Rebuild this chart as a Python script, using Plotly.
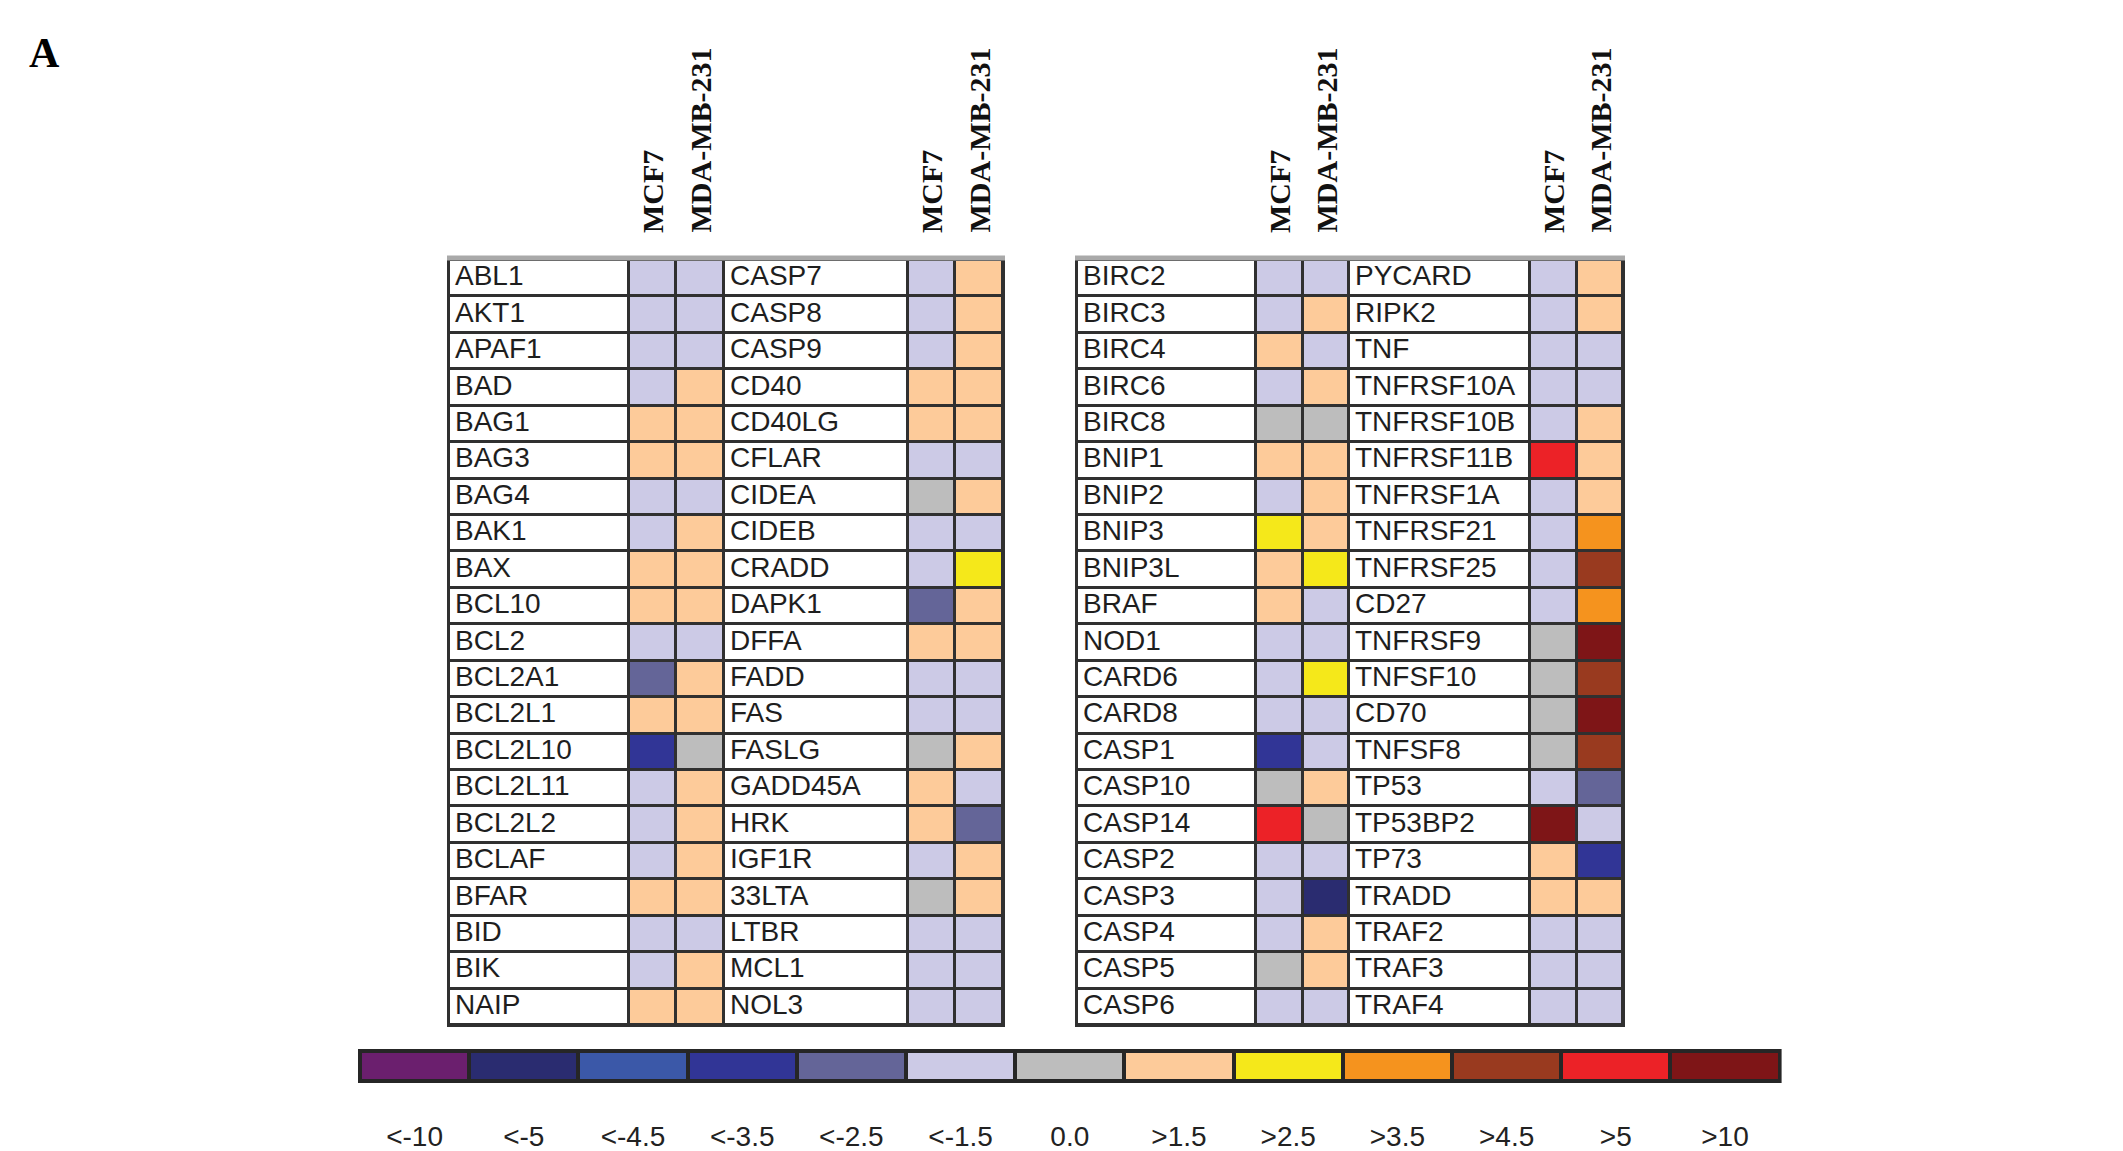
import plotly.graph_objects as go

# legend categories (fold change bins) and their colours
legend_labels = ["<-10", "<-5", "<-4.5", "<-3.5", "<-2.5", "<-1.5", "0.0",
                 ">1.5", ">2.5", ">3.5", ">4.5", ">5", ">10"]
legend_colors = ["#6b1f6e", "#2a2c70", "#3b58a8", "#313596", "#646598", "#cccae6", "#bdbdbd",
                 "#fdcb9a", "#f5e81a", "#f5931e", "#993a1f", "#ec2227", "#7e1517"]

L, G, P = "<-1.5", "0.0", ">1.5"

# left table
genes_a = ["ABL1", "AKT1", "APAF1", "BAD", "BAG1", "BAG3", "BAG4", "BAK1", "BAX", "BCL10", "BCL2",
           "BCL2A1", "BCL2L1", "BCL2L10", "BCL2L11", "BCL2L2", "BCLAF", "BFAR", "BID", "BIK", "NAIP"]
mcf7_a = [L, L, L, L, P, P, L, L, P, P, L, "<-2.5", P, "<-3.5", L, L, L, P, L, L, P]
mda_a = [L, L, L, P, P, P, L, P, P, P, L, P, P, G, P, P, P, P, L, P, P]

genes_b = ["CASP7", "CASP8", "CASP9", "CD40", "CD40LG", "CFLAR", "CIDEA", "CIDEB", "CRADD", "DAPK1",
           "DFFA", "FADD", "FAS", "FASLG", "GADD45A", "HRK", "IGF1R", "33LTA", "LTBR", "MCL1", "NOL3"]
mcf7_b = [L, L, L, P, P, L, G, L, L, "<-2.5", P, L, L, G, P, P, L, G, L, L, L]
mda_b = [P, P, P, P, P, L, P, L, ">2.5", P, P, L, L, P, L, "<-2.5", P, P, L, L, L]

# right table
genes_c = ["BIRC2", "BIRC3", "BIRC4", "BIRC6", "BIRC8", "BNIP1", "BNIP2", "BNIP3", "BNIP3L", "BRAF",
           "NOD1", "CARD6", "CARD8", "CASP1", "CASP10", "CASP14", "CASP2", "CASP3", "CASP4", "CASP5", "CASP6"]
mcf7_c = [L, L, P, L, G, P, L, ">2.5", P, P, L, L, L, "<-3.5", G, ">5", L, L, L, G, L]
mda_c = [L, P, L, P, G, P, P, P, ">2.5", L, L, ">2.5", L, L, P, G, L, "<-5", P, P, L]

genes_d = ["PYCARD", "RIPK2", "TNF", "TNFRSF10A", "TNFRSF10B", "TNFRSF11B", "TNFRSF1A", "TNFRSF21",
           "TNFRSF25", "CD27", "TNFRSF9", "TNFSF10", "CD70", "TNFSF8", "TP53", "TP53BP2", "TP73",
           "TRADD", "TRAF2", "TRAF3", "TRAF4"]
mcf7_d = [L, L, L, L, L, ">5", L, L, L, L, G, G, G, G, L, ">10", P, P, L, L, L]
mda_d = [P, P, L, L, P, P, P, ">3.5", ">4.5", ">3.5", ">10", ">4.5", ">10", ">4.5", "<-2.5", L,
         "<-3.5", P, L, L, L]

cell_lines = ["MCF7", "MDA-MB-231"]

# ---- layout constants (pixel coordinates of the canvas) ----
W, H = 2123, 1151
TOP, BOTTOM = 252, 1017
left_edges = [441, 621, 668, 716, 900, 947, 995]
right_edges = [1069, 1248, 1295, 1341, 1522, 1569, 1615]
BAR_X0, BAR_W, BAR_Y0, BAR_Y1 = 352, 109.2, 1043, 1073
GRID = "#303030"

n_cat = len(legend_labels) + 1  # 0 = blank (white name cell)
colorscale = []
for i, c in enumerate(["#ffffff"] + legend_colors):
    colorscale += [[i / n_cat, c], [(i + 1) / n_cat, c]]


def code(lbl):
    return legend_labels.index(lbl) + 1


fig = go.Figure()

nrows = len(genes_a)
row_h = (BOTTOM - TOP) / nrows
y_edges = [TOP + i * row_h for i in range(nrows + 1)]
y_mid = [TOP + (i + 0.5) * row_h for i in range(nrows)]

tables = [
    (left_edges, genes_a, mcf7_a, mda_a, genes_b, mcf7_b, mda_b),
    (right_edges, genes_c, mcf7_c, mda_c, genes_d, mcf7_d, mda_d),
]

for edges, g1, m1, d1, g2, m2, d2 in tables:
    z = [[0, code(m1[r]), code(d1[r]), 0, code(m2[r]), code(d2[r])] for r in range(nrows)]
    fig.add_shape(type="rect", x0=edges[0] - 2, x1=edges[-1] + 2, y0=TOP - 2, y1=BOTTOM + 2,
                  fillcolor=GRID, line_width=0, layer="below")
    fig.add_trace(go.Heatmap(z=z, x=edges, y=y_edges, colorscale=colorscale, zmin=-0.5,
                             zmax=n_cat - 0.5, xgap=3, ygap=3, showscale=False, hoverinfo="skip"))
    # gray top rule
    fig.add_shape(type="line", x0=edges[0] - 2, x1=edges[-1] + 2, y0=TOP - 2, y1=TOP - 2,
                  line=dict(color="#a9a9a9", width=5))
    # gene names
    for gx, names in ((edges[0], g1), (edges[3], g2)):
        fig.add_trace(go.Scatter(x=[gx + 6] * nrows, y=y_mid, text=names, mode="text",
                                 textposition="middle right", hoverinfo="skip", showlegend=False,
                                 textfont=dict(family="Liberation Sans, Arial", size=28, color="#1e1e1e")))
    # rotated column headers
    for c0 in (1, 4):
        for k, name in enumerate(cell_lines):
            xc = (edges[c0 + k] + edges[c0 + k + 1]) / 2
            fig.add_annotation(x=xc, y=227, text=name, textangle=-90, showarrow=False,
                               xanchor="center", yanchor="bottom",
                               font=dict(family="Liberation Serif, Times New Roman", size=30,
                                         color="#111111", weight="bold"))

# colour key
bar_edges = [BAR_X0 + i * BAR_W for i in range(len(legend_labels) + 1)]
bar_mid = [BAR_X0 + (i + 0.5) * BAR_W for i in range(len(legend_labels))]
fig.add_shape(type="rect", x0=bar_edges[0] - 2, x1=bar_edges[-1] + 2, y0=BAR_Y0 - 2, y1=BAR_Y1 + 2,
              fillcolor="#262626", line_width=0, layer="below")
fig.add_trace(go.Heatmap(z=[[code(l) for l in legend_labels]], x=bar_edges, y=[BAR_Y0, BAR_Y1],
                         colorscale=colorscale, zmin=-0.5, zmax=n_cat - 0.5, xgap=4, ygap=4,
                         showscale=False, hoverinfo="skip"))
fig.add_trace(go.Scatter(x=bar_mid, y=[1131] * len(bar_mid),
                         text=[l.replace("<", "&lt;").replace(">", "&gt;") for l in legend_labels],
                         mode="text", hoverinfo="skip", showlegend=False,
                         textfont=dict(family="Liberation Sans, Arial", size=28, color="#222222")))

fig.add_annotation(x=36, y=45, text="A", showarrow=False, xanchor="center", yanchor="middle",
                   font=dict(family="Liberation Serif, Times New Roman", size=42, color="#000000",
                             weight="bold"))

fig.update_xaxes(range=[0, W], visible=False, fixedrange=True)
fig.update_yaxes(range=[H, 0], visible=False, fixedrange=True)
fig.update_layout(width=W, height=H, margin=dict(l=0, r=0, t=0, b=0), showlegend=False,
                  plot_bgcolor="white", paper_bgcolor="white")

fig.write_html("out.html")
